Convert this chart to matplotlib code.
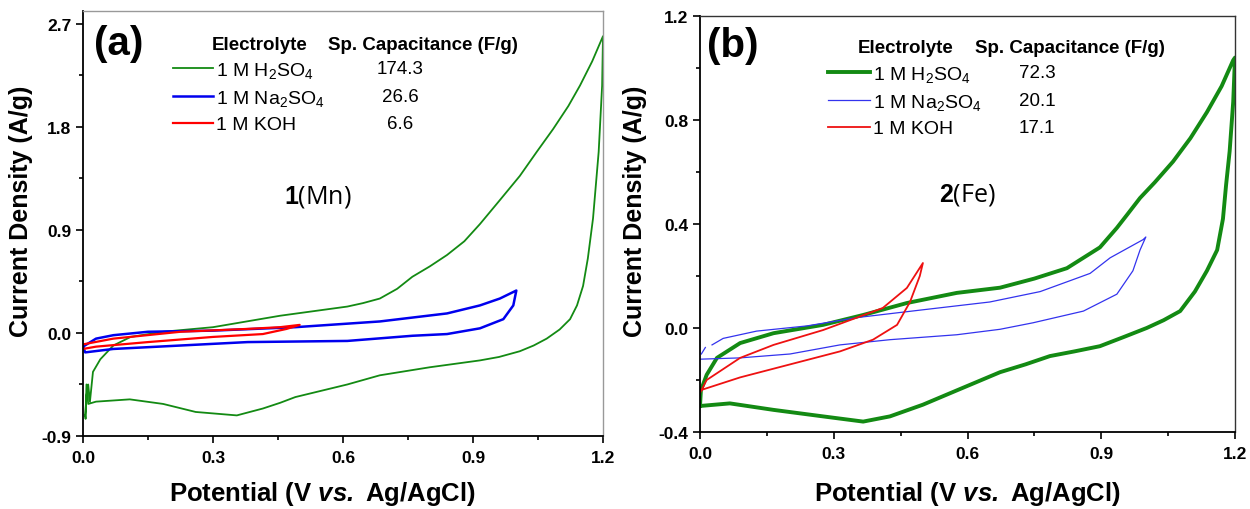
import numpy as np
import matplotlib
matplotlib.use("Agg")
import matplotlib.pyplot as plt
from matplotlib.ticker import MultipleLocator, FormatStrFormatter

plt.rcParams['font.family'] = ['Liberation Sans', 'DejaVu Sans']
plt.rcParams['mathtext.fontset'] = 'custom'
plt.rcParams['mathtext.rm'] = 'Liberation Sans'
plt.rcParams['mathtext.it'] = 'Liberation Sans:italic'
plt.rcParams['mathtext.bf'] = 'Liberation Sans:bold'
plt.rcParams['mathtext.bfit'] = 'Liberation Sans:italic:bold'

# ---- panel (a): 1(Mn) ----
mn_h2so4_v = [0.005, 0.008, 0.012, 0.016, 0.023, 0.04, 0.07, 0.11, 0.185, 0.30, 0.455, 0.61,
              0.646, 0.685, 0.725, 0.76, 0.80, 0.84, 0.88, 0.916, 0.96, 1.008, 1.047, 1.085,
              1.12, 1.147, 1.175, 1.2,
              1.198, 1.19, 1.177, 1.165, 1.154, 1.14, 1.124, 1.10, 1.07, 1.04, 1.008, 0.96,
              0.916, 0.80, 0.685, 0.61, 0.49, 0.455, 0.415, 0.355, 0.26, 0.185, 0.108, 0.03,
              0.012, 0.008, 0.006, 0.005]
mn_h2so4_i = [-0.72, -0.55, -0.45, -0.60, -0.34, -0.23, -0.11, -0.035, 0.01, 0.05, 0.15, 0.23,
              0.26, 0.30, 0.385, 0.49, 0.58, 0.68, 0.80, 0.95, 1.15, 1.37, 1.58, 1.78,
              1.98, 2.16, 2.37, 2.59,
              2.16, 1.58, 1.0, 0.65, 0.41, 0.24, 0.12, 0.03, -0.05, -0.11, -0.16, -0.21,
              -0.24, -0.30, -0.37, -0.45, -0.56, -0.61, -0.66, -0.72, -0.69, -0.62, -0.58, -0.60,
              -0.62, -0.45, -0.75, -0.72]

mn_na2so4_v = [0.0, 0.03, 0.07, 0.15, 0.30, 0.49, 0.685, 0.84, 0.916, 0.962, 1.0,
               0.993, 0.97, 0.916, 0.84, 0.76, 0.61, 0.38, 0.225, 0.07, 0.005, 0.0]
mn_na2so4_i = [-0.12, -0.05, -0.02, 0.01, 0.02, 0.05, 0.10, 0.17, 0.24, 0.30, 0.37,
               0.24, 0.12, 0.04, -0.01, -0.025, -0.07, -0.08, -0.11, -0.14, -0.17, -0.12]

mn_koh_v = [0.0, 0.07, 0.225, 0.38, 0.455, 0.50, 0.47, 0.415, 0.30, 0.15, 0.03, 0.0]
mn_koh_i = [-0.10, -0.05, 0.01, 0.035, 0.05, 0.07, 0.035, -0.01, -0.035, -0.08, -0.12, -0.14]

# ---- panel (b): 2(Fe) ----
fe_h2so4_v = [0.0, 0.002, 0.015, 0.038, 0.09, 0.165, 0.276, 0.366, 0.464, 0.576, 0.673, 0.75,
              0.823, 0.86, 0.897, 0.935, 0.96, 0.987, 1.02, 1.061, 1.10, 1.137, 1.17, 1.196, 1.2,
              1.196, 1.188, 1.18, 1.173, 1.16, 1.137, 1.11, 1.077, 1.04, 1.002, 0.95, 0.897,
              0.84, 0.785, 0.73, 0.673, 0.576, 0.50, 0.426, 0.366, 0.276, 0.165, 0.067, 0.0]
fe_h2so4_i = [-0.30, -0.24, -0.18, -0.115, -0.058, -0.02, 0.012, 0.05, 0.096, 0.135, 0.155, 0.19,
              0.23, 0.27, 0.31, 0.385, 0.44, 0.50, 0.56, 0.64, 0.73, 0.83, 0.93, 1.03, 1.04,
              0.87, 0.68, 0.55, 0.42, 0.30, 0.22, 0.14, 0.065, 0.03, 0.0, -0.035, -0.07,
              -0.09, -0.108, -0.14, -0.17, -0.24, -0.295, -0.34, -0.36, -0.34, -0.315, -0.29, -0.30]

fe_na2so4_v = [0.027, 0.052, 0.127, 0.24, 0.352, 0.50, 0.65, 0.763, 0.875, 0.92, 0.994, 1.0,
               0.987, 0.971, 0.935, 0.86, 0.747, 0.673, 0.576, 0.426, 0.314, 0.202, 0.09, 0.0,
               np.nan, 0.003, 0.012]
fe_na2so4_i = [-0.065, -0.04, -0.012, 0.008, 0.04, 0.07, 0.10, 0.14, 0.21, 0.27, 0.34, 0.35,
               0.30, 0.22, 0.13, 0.065, 0.02, -0.005, -0.026, -0.045, -0.065, -0.10, -0.115, -0.12,
               np.nan, -0.10, -0.075]

fe_koh_v = [0.0, 0.015, 0.09, 0.165, 0.276, 0.352, 0.41, 0.464, 0.50,
            0.493, 0.471, 0.442, 0.388, 0.314, 0.202, 0.09, 0.0]
fe_koh_i = [-0.25, -0.20, -0.115, -0.065, -0.008, 0.04, 0.077, 0.154, 0.25,
            0.20, 0.10, 0.012, -0.045, -0.09, -0.14, -0.19, -0.24]

labels = [r'1 M H$_2$SO$_4$', r'1 M Na$_2$SO$_4$', '1 M KOH']
cap_mn = ['174.3', '26.6', '6.6']
cap_fe = ['72.3', '20.1', '17.1']

fig = plt.figure(figsize=(12.5, 5.1), dpi=100)
ax1 = fig.add_axes([0.0664, 0.1431, 0.416, 0.8334])
ax2 = fig.add_axes([0.56, 0.151, 0.428, 0.8157])


def style_axes(ax, ylim, ymaj, ymin, frame_col):
    ax.set_xlim(0, 1.2)
    ax.set_ylim(*ylim)
    ax.xaxis.set_major_locator(MultipleLocator(0.3))
    ax.xaxis.set_minor_locator(MultipleLocator(0.15))
    ax.yaxis.set_major_locator(MultipleLocator(ymaj))
    ax.yaxis.set_minor_locator(MultipleLocator(ymin))
    ax.xaxis.set_major_formatter(FormatStrFormatter('%.1f'))
    ax.yaxis.set_major_formatter(FormatStrFormatter('%.1f'))
    ax.tick_params(which='both', direction='out', top=False, right=False, width=1.2)
    ax.tick_params(which='major', length=5, labelsize=12.5)
    ax.tick_params(axis='x', which='major', pad=5)
    ax.tick_params(which='minor', length=3)
    for t in ax.get_xticklabels() + ax.get_yticklabels():
        t.set_fontweight('bold')
    for s in ['left', 'bottom']:
        ax.spines[s].set_linewidth(1.3)
    for s in ['top', 'right']:
        ax.spines[s].set_linewidth(1.0)
        ax.spines[s].set_color(frame_col)
    ax.set_xlabel(r'Potential (V $\mathbfit{vs.}$ Ag/AgCl)', fontsize=18.5, fontweight='bold')
    ax.set_ylabel('Current Density (A/g)', fontsize=18, fontweight='bold')


def add_legend(ax, lines, anchor, hlen, hx, cx, hy):
    leg = ax.legend(lines, labels, loc='upper left', bbox_to_anchor=anchor,
                    frameon=False, fontsize=14, handlelength=hlen, handletextpad=0.15,
                    labelspacing=0.41, borderpad=0, borderaxespad=0)
    ax.text(hx, hy, 'Electrolyte', transform=ax.transAxes, fontsize=13.5,
            fontweight='bold', va='center', ha='left')
    ax.text(cx, hy, 'Sp. Capacitance (F/g)', transform=ax.transAxes, fontsize=13.5,
            fontweight='bold', va='center', ha='left')
    return leg


# panel (a)
ga, = ax1.plot(mn_h2so4_v, mn_h2so4_i, color='#138a13', lw=1.3)
ba, = ax1.plot(mn_na2so4_v, mn_na2so4_i, color='#0000ee', lw=1.8)
ra, = ax1.plot(mn_koh_v, mn_koh_i, color='#ff0000', lw=1.6)
style_axes(ax1, (-0.9, 2.81), 0.9, 0.45, '#999999')
leg1 = add_legend(ax1, [ga, ba, ra], (0.173, 0.885), 2.05, 0.248, 0.471, 0.922)
ax1.text(0.022, 0.925, '(a)', transform=ax1.transAxes, fontsize=29,
         fontweight='bold', va='center', ha='left')
ax1.text(0.452, 0.565, r'$\mathbf{1}$(Mn)', transform=ax1.transAxes, fontsize=18,
         family='Open Sans', va='center', ha='center')

# panel (b)
gb, = ax2.plot(fe_h2so4_v, fe_h2so4_i, color='#138a13', lw=2.8)
bb, = ax2.plot(fe_na2so4_v, fe_na2so4_i, color='#3333ee', lw=0.9)
rb, = ax2.plot(fe_koh_v, fe_koh_i, color='#ee1111', lw=1.3)
style_axes(ax2, (-0.4, 1.2), 0.4, 0.2, '#333333')
leg2 = add_legend(ax2, [gb, bb, rb], (0.239, 0.885), 2.15, 0.295, 0.514, 0.925)
ax2.text(0.014, 0.93, '(b)', transform=ax2.transAxes, fontsize=29,
         fontweight='bold', va='center', ha='left')
ax2.text(0.499, 0.572, r'$\mathbf{2}$(Fe)', transform=ax2.transAxes, fontsize=18,
         family='Open Sans', va='center', ha='center')

ax1.xaxis.set_label_coords(0.46, -0.10)
ax2.xaxis.set_label_coords(0.5, -0.113)
ax1.yaxis.set_label_coords(-0.096, 0.53)
ax2.yaxis.set_label_coords(-0.099, 0.534)

# put capacitance values on the same rows as the legend entries
fig.canvas.draw()
for ax, leg, caps, cx in ((ax1, leg1, cap_mn, 0.61), (ax2, leg2, cap_fe, 0.63)):
    inv = ax.transAxes.inverted()
    for t, c in zip(leg.get_texts(), caps):
        bb_ = t.get_window_extent()
        ymid = inv.transform((0, (bb_.y0 + bb_.y1) / 2))[1]
        ax.text(cx, ymid + 0.004, c, transform=ax.transAxes, fontsize=13.5,
                va='center', ha='center')

fig.savefig('out.png', dpi=100)
